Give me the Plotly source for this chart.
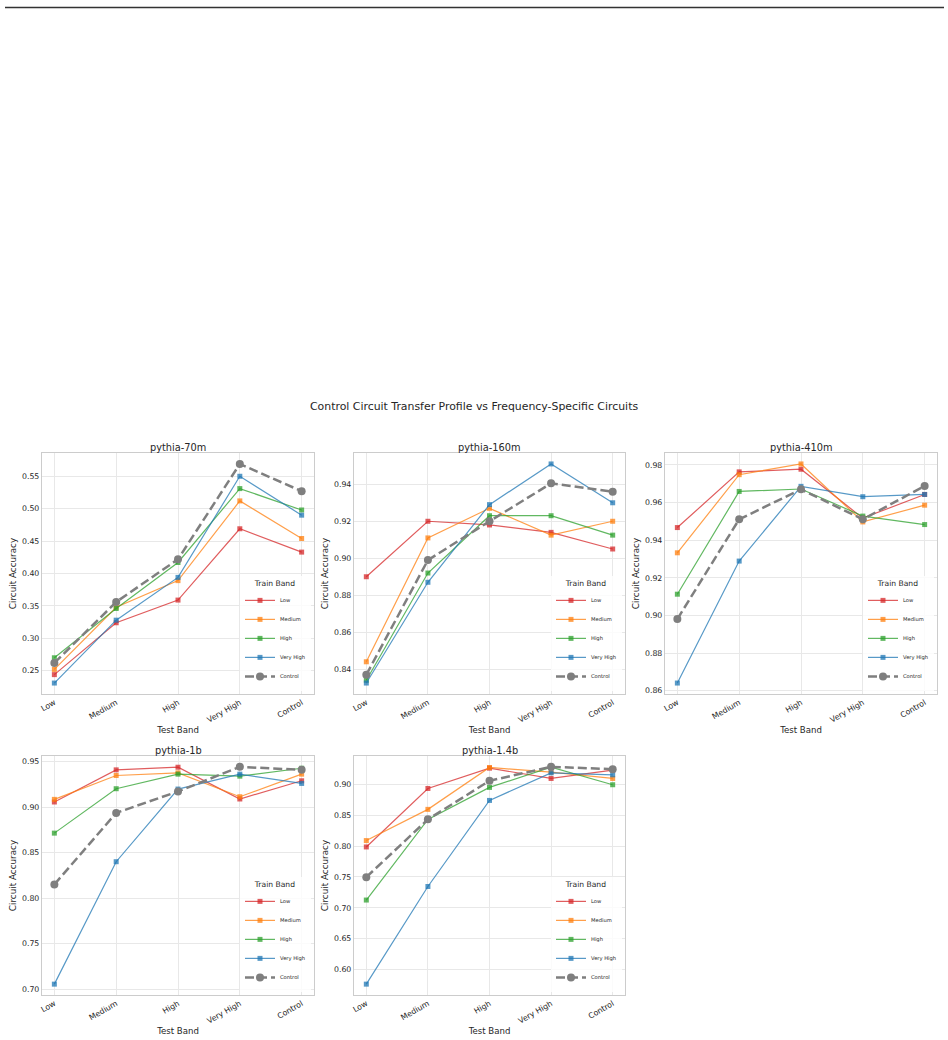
import plotly.graph_objects as go

# ---------------- data ----------------
test_bands = ["Low", "Medium", "High", "Very High", "Control"]
train_bands = ["Low", "Medium", "High", "Very High", "Control"]
models = ["pythia-70m", "pythia-160m", "pythia-410m", "pythia-1b", "pythia-1.4b"]

# rows = train band (Low, Medium, High, Very High, Control); columns = test band
acc_70m = [
    [0.244, 0.324, 0.359, 0.469, 0.433],
    [0.252, 0.348, 0.389, 0.512, 0.454],
    [0.270, 0.346, 0.417, 0.531, 0.498],
    [0.231, 0.328, 0.394, 0.550, 0.490],
    [0.262, 0.356, 0.422, 0.569, 0.527],
]
acc_160m = [
    [0.890, 0.920, 0.918, 0.914, 0.905],
    [0.844, 0.911, 0.927, 0.9125, 0.920],
    [0.834, 0.892, 0.923, 0.923, 0.9125],
    [0.8325, 0.887, 0.929, 0.951, 0.930],
    [0.837, 0.899, 0.920, 0.9405, 0.936],
]
acc_410m = [
    [0.9467, 0.9763, 0.9777, 0.9517, 0.9643],
    [0.9333, 0.9748, 0.9805, 0.9497, 0.9586],
    [0.9113, 0.9659, 0.9672, 0.9528, 0.9483],
    [0.8641, 0.9289, 0.9686, 0.9631, 0.9643],
    [0.8981, 0.9511, 0.9670, 0.9511, 0.9688],
]
acc_1b = [
    [0.9056, 0.9409, 0.9438, 0.9089, 0.9289],
    [0.9085, 0.9347, 0.9376, 0.9114, 0.9362],
    [0.8714, 0.9202, 0.9362, 0.9340, 0.9427],
    [0.7055, 0.8400, 0.9198, 0.9362, 0.9260],
    [0.8150, 0.8936, 0.9172, 0.9442, 0.9409],
]
acc_1_4b = [
    [0.7987, 0.8935, 0.9264, 0.9097, 0.9232],
    [0.8090, 0.8596, 0.9275, 0.9199, 0.9097],
    [0.7126, 0.8434, 0.8952, 0.9280, 0.8995],
    [0.5763, 0.7346, 0.8741, 0.9188, 0.9156],
    [0.7497, 0.8434, 0.9059, 0.9285, 0.9248],
]
y_dticks = [0.05, 0.02, 0.02, 0.05, 0.05]

# ---------------- style ----------------
W, H = 948, 1040
FONT = "DejaVu Sans"
TXT = "#262626"
band_colors = ["rgba(214,39,40,0.75)", "rgba(255,127,14,0.75)",
               "rgba(44,160,44,0.75)", "rgba(31,119,180,0.75)", "#7f7f7f"]

# plot-area boxes in pixels (left, right, top, bottom)
boxes = [
    (42, 314, 453, 694),
    (354, 625, 453, 694),
    (665, 937, 453, 694),
    (42, 314, 756, 995),
    (354, 625, 756, 995),
]

all_data = [acc_70m, acc_160m, acc_410m, acc_1b, acc_1_4b]

fig = go.Figure()
annotations = []
layout = {}

for i, (name, data, box, dt) in enumerate(zip(models, all_data, boxes, y_dticks)):
    n = i + 1
    xa = "x" if n == 1 else f"x{n}"
    ya = "y" if n == 1 else f"y{n}"
    leg = "legend" if n == 1 else f"legend{n}"
    for j, (band, vals) in enumerate(zip(train_bands, data)):
        if band == "Control":
            line = dict(color=band_colors[j], width=2.5, dash="9px,4px")
            marker = dict(symbol="circle", size=8, color=band_colors[j])
        else:
            line = dict(color=band_colors[j], width=1.2)
            marker = dict(symbol="square", size=5, color=band_colors[j])
        fig.add_trace(go.Scatter(
            x=list(range(len(test_bands))), y=vals, mode="lines+markers",
            name=band, line=line, marker=marker,
            xaxis=xa, yaxis=ya, legend=leg, showlegend=True,
        ))
    flat = [v for row in data for v in row]
    lo, hi = min(flat), max(flat)
    pad = (hi - lo) * 0.05
    l, r, t, b = box
    axis_common = dict(
        showgrid=True, gridcolor="#e8e8e8", gridwidth=1,
        showline=True, linecolor="#cccccc", linewidth=1.2, mirror=True,
        ticks="", zeroline=False,
        tickfont=dict(family=FONT, size=7.8, color=TXT),
    )
    layout["xaxis" if n == 1 else f"xaxis{n}"] = dict(
        axis_common, domain=[l / W, r / W], anchor=ya,
        range=[-0.2, len(test_bands) - 1 + 0.2],
        tickmode="array", tickvals=list(range(len(test_bands))), ticktext=test_bands,
        tickangle=-30,
        title=dict(text="Test Band", font=dict(family=FONT, size=8.6, color=TXT), standoff=3),
    )
    layout["yaxis" if n == 1 else f"yaxis{n}"] = dict(
        axis_common, domain=[1 - b / H, 1 - t / H], anchor=xa,
        range=[lo - pad, hi + pad], dtick=dt, tickformat=".2f",
        title=dict(text="Circuit Accuracy", font=dict(family=FONT, size=8.8, color=TXT), standoff=3),
    )
    layout[leg] = dict(
        x=(r - 3) / W, y=1 - (b - 3) / H, xanchor="right", yanchor="bottom",
        xref="paper", yref="paper",
        bgcolor="rgba(255,255,255,0.8)", borderwidth=0,
        font=dict(family=FONT, size=5.2, color=TXT),
        title=dict(text="Train Band", side="top center",
                   font=dict(family=FONT, size=7.6, color=TXT)),
        itemwidth=30, tracegroupgap=0,
    )
    annotations.append(dict(
        text=name, x=(l + r) / 2 / W, y=1 - (t - 6) / H, xref="paper", yref="paper",
        xanchor="center", yanchor="middle", showarrow=False,
        font=dict(family=FONT, size=9.8, color=TXT),
    ))

annotations.append(dict(
    text="Control Circuit Transfer Profile vs Frequency-Specific Circuits",
    x=0.5, y=1 - 407 / H, xref="paper", yref="paper", xanchor="center", yanchor="middle",
    showarrow=False, font=dict(family=FONT, size=10.9, color=TXT),
))

fig.update_layout(
    width=W, height=H, margin=dict(l=0, r=0, t=0, b=0, autoexpand=False),
    paper_bgcolor="white", plot_bgcolor="white",
    annotations=annotations,
    shapes=[dict(type="line", xref="paper", yref="paper",
                 x0=5 / W, x1=944 / W, y0=1 - 7.5 / H, y1=1 - 7.5 / H,
                 line=dict(color="#333333", width=1.5))],
    **layout,
)

fig.write_html("out.html")
